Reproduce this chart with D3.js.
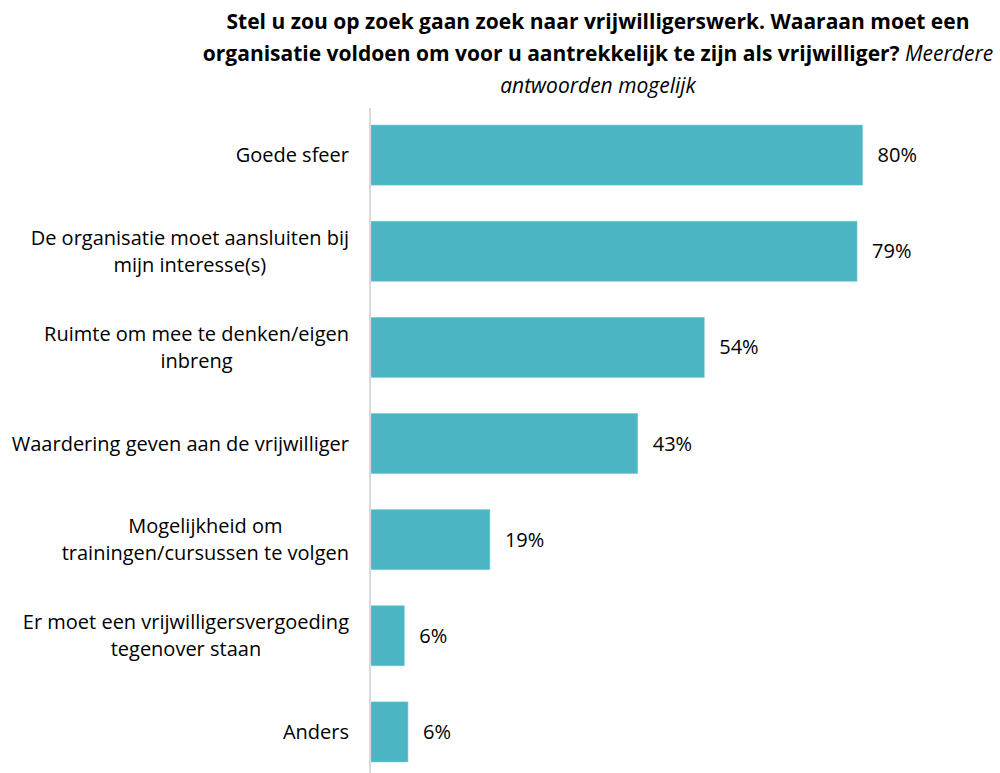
<!DOCTYPE html>
<html><head><meta charset="utf-8">
<script src="https://cdn.jsdelivr.net/npm/d3@7"></script>
<style>body{margin:0;background:#fff}svg{display:block}</style>
</head><body>
<svg id="c" width="1000" height="773"></svg>
<script>
const categories = [
  ["Goede sfeer"],
  ["De organisatie moet aansluiten bij", "mijn interesse(s)"],
  ["Ruimte om mee te denken/eigen", "inbreng"],
  ["Waardering geven aan de vrijwilliger"],
  ["Mogelijkheid om", "trainingen/cursussen te volgen"],
  ["Er moet een vrijwilligersvergoeding", "tegenover staan"],
  ["Anders"]
];
const values = [79.8, 78.9, 54.1, 43.3, 19.3, 5.4, 6.0];
const valueLabels = ["80%", "79%", "54%", "43%", "19%", "6%", "6%"];
const titleLines = [
  [{t:"Stel u zou op zoek gaan zoek naar vrijwilligerswerk. Waaraan moet een", b:true}],
  [{t:"organisatie voldoen om voor u aantrekkelijk te zijn als vrijwilliger? ", b:true},{t:"Meerdere", b:false}],
  [{t:"antwoorden mogelijk", b:false}]
];

const FONT = "'Open Sans', sans-serif";
const svg = d3.select("#c");
const keys = categories.map((d,i)=>"c"+i);
const x = d3.scaleLinear().domain([0,100]).range([371, 371+616]);
const y = d3.scaleBand().domain(keys).range([107,780]).paddingInner(0.375).paddingOuter(0.1875);

// title
titleLines.forEach((line,i)=>{
  const t = svg.append("text").attr("font-family",FONT).attr("font-size",21).attr("fill","#000")
    .attr("text-anchor","middle").attr("x",598).attr("y",29+i*32).attr("xml:space","preserve");
  line.forEach(seg=>{
    t.append("tspan").text(seg.t).attr("font-weight",seg.b?"bold":"normal").attr("font-style",seg.b?"normal":"italic");
  });
});

// bars
svg.selectAll("rect.bar").data(values).join("rect").attr("class","bar")
  .attr("x",x(0)).attr("y",(d,i)=>y(keys[i]))
  .attr("width",d=>x(d)-x(0)).attr("height",y.bandwidth())
  .attr("fill","#4BB5C4").attr("stroke","#7fcdd8").attr("stroke-width",0.6);

// axis line
svg.append("line").attr("x1",370).attr("x2",370).attr("y1",108).attr("y2",773)
  .attr("stroke","#d9d9d9").attr("stroke-width",2);

// value labels
svg.selectAll("text.val").data(values).join("text").attr("class","val")
  .attr("x",d=>x(d)+15).attr("y",(d,i)=>y(keys[i])+y.bandwidth()/2)
  .attr("dy","0.35em").attr("font-family",FONT).attr("font-size",20).attr("fill","#000")
  .text((d,i)=>valueLabels[i]);

// category labels (block right-aligned, lines centered)
categories.forEach((lines,i)=>{
  const cy = y(keys[i])+y.bandwidth()/2;
  const g = svg.append("g");
  const texts = lines.map((l,j)=>g.append("text").attr("font-family",FONT).attr("font-size",20).attr("fill","#000")
    .attr("text-anchor","middle").attr("dy","0.35em")
    .attr("y",cy + (j-(lines.length-1)/2)*27).text(l));
  const w = d3.max(texts,t=>t.node().getComputedTextLength());
  texts.forEach(t=>t.attr("x",349-w/2));
});
</script>
</body></html>
